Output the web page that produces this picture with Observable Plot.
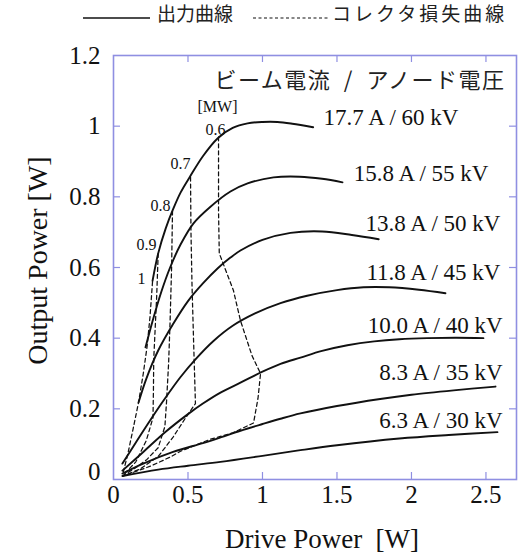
<!DOCTYPE html>
<html>
<head>
<meta charset="utf-8">
<script src="https://cdn.jsdelivr.net/npm/d3@7"></script>
<script src="https://cdn.jsdelivr.net/npm/@observablehq/plot@0.6"></script>
<style>
  html, body { margin: 0; padding: 0; background: #fff; }
  #wrap { position: relative; width: 530px; height: 560px; overflow: hidden; }
  #legend { position: absolute; left: 0; top: 0; width: 530px; height: 34px; z-index: 2; }
  .lg { position: absolute; top: 3px; font-family: "Noto Sans CJK JP", sans-serif; font-size: 19px; line-height: 20px; color: #222; white-space: nowrap; }
  #chart { position: absolute; left: 0; top: 0; }
</style>
</head>
<body>
<div id="wrap">
  <div id="legend">
    <svg width="530" height="34" style="position:absolute;left:0;top:0">
      <line x1="83" x2="150" y1="18" y2="18" stroke="#111" stroke-width="1.4"/>
      <line x1="253" x2="330" y1="18" y2="18" stroke="#111" stroke-width="1.1" stroke-dasharray="3,2.5"/>
    </svg>
    <span class="lg" style="left:157px">出力曲線</span>
    <span class="lg" style="left:332px;letter-spacing:3px">コレクタ損失曲線</span>
  </div>
  <div id="chart"></div>
</div>
<script>
// ---- axis ticks ----
const xTicks = [0, 0.5, 1, 1.5, 2, 2.5];
const yTicks = [0, 0.2, 0.4, 0.6, 0.8, 1, 1.2];

// ---- output power curves (solid) : [drive W, output W] ----
const seriesNames = ["17.7 A / 60 kV", "15.8 A / 55 kV", "13.8 A / 50 kV", "11.8 A / 45 kV", "10.0 A / 40 kV", "8.3 A / 35 kV", "6.3 A / 30 kV"];
const out177 = [[0.262,0.562],[0.30,0.64],[0.35,0.71],[0.40,0.765],[0.45,0.812],[0.513,0.857],[0.60,0.915],[0.70,0.966],[0.80,0.995],[0.90,1.008],[1.00,1.012],[1.10,1.012],[1.20,1.007],[1.34,0.997]];
const out158 = [[0.215,0.374],[0.26,0.445],[0.32,0.53],[0.38,0.60],[0.45,0.665],[0.537,0.725],[0.651,0.772],[0.785,0.815],[0.90,0.838],[1.074,0.855],[1.25,0.857],[1.40,0.851],[1.537,0.841]];
const out138 = [[0.168,0.218],[0.22,0.285],[0.30,0.365],[0.40,0.44],[0.50,0.505],[0.60,0.555],[0.70,0.598],[0.785,0.628],[0.852,0.648],[1.00,0.678],[1.188,0.698],[1.40,0.702],[1.60,0.692],[1.78,0.680]];
const out118 = [[0.06,0.045],[0.15,0.105],[0.25,0.17],[0.35,0.232],[0.45,0.29],[0.55,0.34],[0.671,0.392],[0.80,0.435],[0.95,0.47],[1.121,0.499],[1.30,0.52],[1.50,0.536],[1.678,0.544],[1.85,0.544],[2.05,0.537],[2.228,0.527]];
const out100 = [[0.06,0.025],[0.2,0.078],[0.35,0.135],[0.5,0.185],[0.6,0.215],[0.718,0.246],[0.852,0.274],[1.0,0.305],[1.121,0.327],[1.255,0.345],[1.40,0.364],[1.57,0.38],[1.75,0.391],[1.919,0.397],[2.107,0.40],[2.30,0.401],[2.483,0.40]];
const out83  = [[0.06,0.017],[0.2,0.045],[0.4,0.078],[0.6,0.103],[0.718,0.119],[0.852,0.138],[1.0,0.157],[1.121,0.172],[1.255,0.187],[1.5,0.208],[1.79,0.228],[2.0,0.24],[2.3,0.253],[2.564,0.263]];
const out63  = [[0.06,0.01],[0.3,0.028],[0.5,0.039],[0.718,0.05],[1.0,0.067],[1.255,0.083],[1.5,0.097],[1.919,0.116],[2.25,0.126],[2.577,0.134]];
const outputs = [out177, out158, out138, out118, out100, out83, out63];

// curve label anchors (end of text) [x, y]
const labelX = [2.315, 2.517, 2.597, 2.597, 2.611, 2.611, 2.611];
const labelY = [1.023, 0.867, 0.725, 0.586, 0.436, 0.303, 0.167];

// ---- collector loss curves (dashed), MW ----
const lossLevels = ["0.6", "0.7", "0.8", "0.9", "1"];
const loss06 = [[0.705,0.97],[0.705,0.76],[0.71,0.64],[0.805,0.535],[0.852,0.45],[0.93,0.35],[0.987,0.30],[0.97,0.23],[0.94,0.16],[0.80,0.132],[0.651,0.114],[0.45,0.08],[0.383,0.064],[0.25,0.038],[0.065,0.01]];
const loss07 = [[0.517,0.856],[0.52,0.70],[0.527,0.55],[0.537,0.40],[0.55,0.215],[0.48,0.172],[0.40,0.12],[0.30,0.065],[0.18,0.03],[0.065,0.01]];
const loss08 = [[0.396,0.76],[0.39,0.60],[0.38,0.45],[0.37,0.33],[0.356,0.22],[0.345,0.15],[0.30,0.09],[0.22,0.055],[0.13,0.028],[0.065,0.012]];
const loss09 = [[0.30,0.64],[0.29,0.52],[0.28,0.43],[0.27,0.34],[0.268,0.25],[0.265,0.175],[0.22,0.11],[0.15,0.05],[0.065,0.012]];
const loss10 = [[0.262,0.56],[0.245,0.46],[0.225,0.375],[0.20,0.30],[0.168,0.218],[0.13,0.14],[0.095,0.07],[0.065,0.02]];
const losses = [loss06, loss07, loss08, loss09, loss10];

// loss level labels [x, y]
const lossLabelText = ["[MW]", "0.6", "0.7", "0.8", "0.9", "1"];
const lossLabelX = [0.698, 0.685, 0.45, 0.315, 0.221, 0.188];
const lossLabelY = [1.056, 0.99, 0.892, 0.773, 0.663, 0.569];

const innerTitle = "ビーム電流 / アノード電圧";
const xTitle = "Drive Power\u00a0 [W]";
const yTitle = "Output Power [W]";

// ---- build tables ----
const outRows = outputs.flatMap((pts, i) => pts.map(([x, y]) => ({series: seriesNames[i], x, y})));
const lossRows = losses.flatMap((pts, i) => pts.map(([x, y]) => ({level: lossLevels[i], x, y})));
const curveLabels = seriesNames.map((t, i) => ({t, x: labelX[i], y: labelY[i]}));
const lossLabels = lossLabelText.map((t, i) => ({t, x: lossLabelX[i], y: lossLabelY[i]}));
const innerTitleShown = innerTitle.replace(/ /g, "\u2002");

const W = 530, H = 560, mT = 55, mB = 81, mL = 113, mR = 14;
const plotW = W - mL - mR, plotH = H - mT - mB;
const frameColor = "#8f8fe2";
const serif = "'Liberation Serif', 'Times New Roman', serif";
const tickLen = 7;

const chart = Plot.plot({
  width: W, height: H,
  marginTop: mT, marginBottom: mB, marginLeft: mL, marginRight: mR,
  x: {domain: [0, 2.705], label: null},
  y: {domain: [0, 1.2], label: null},
  style: {fontFamily: serif, background: "white", color: "#111"},
  marks: [
    Plot.line(lossRows, {x: "x", y: "y", z: "level", stroke: "#111", strokeWidth: 1.25, strokeDasharray: "4,3"}),
    Plot.line(outRows, {x: "x", y: "y", z: "series", stroke: "#111", strokeWidth: 1.9, curve: "catmull-rom"}),
    // inward ticks on all four sides
    Plot.tickX(xTicks.filter(d => d > 0), {x: d => d, stroke: frameColor, strokeWidth: 1.2, insetTop: plotH - tickLen}),
    Plot.tickX(xTicks.filter(d => d > 0), {x: d => d, stroke: frameColor, strokeWidth: 1.2, insetBottom: plotH - tickLen}),
    Plot.tickY(yTicks.filter(d => d > 0 && d < 1.2), {y: d => d, stroke: frameColor, strokeWidth: 1.2, insetRight: plotW - tickLen}),
    Plot.tickY(yTicks.filter(d => d > 0 && d < 1.2), {y: d => d, stroke: frameColor, strokeWidth: 1.2, insetLeft: plotW - tickLen}),
    Plot.frame({stroke: frameColor, strokeWidth: 1.6}),
    Plot.axisX({ticks: xTicks, tickSize: 0, tickPadding: 6, fontSize: 25, tickFormat: d => String(d), label: null}),
    Plot.axisY({ticks: yTicks.filter(d => d > 0), tickSize: 0, tickPadding: 13, fontSize: 25, tickFormat: d => String(d), label: null}),
    Plot.axisY({ticks: [0], tickSize: 0, tickPadding: 13, fontSize: 25, dy: -8, tickFormat: d => String(d), label: null}),
    Plot.text(curveLabels, {x: "x", y: "y", text: "t", textAnchor: "end", lineAnchor: "middle", fontSize: 23, fill: "#111"}),
    Plot.text(lossLabels, {x: "x", y: "y", text: "t", textAnchor: "middle", lineAnchor: "middle", fontSize: 16, fill: "#111"}),
    Plot.text([innerTitleShown], {frameAnchor: "top-right", textAnchor: "end", lineAnchor: "middle", dx: -11, dy: 25, fontSize: 22, fontFamily: "'Noto Sans CJK JP', sans-serif", fill: "#222"}),
    Plot.text([xTitle], {frameAnchor: "bottom", textAnchor: "middle", lineAnchor: "middle", dx: 7, dy: 60, fontSize: 27, fill: "#111"}),
    Plot.text([yTitle], {frameAnchor: "left", textAnchor: "middle", lineAnchor: "middle", rotate: -90, dx: -75, dy: -7, fontSize: 28, fill: "#111"})
  ]
});
d3.select(chart).selectAll("text").filter(function () { return this.textContent === innerTitleShown; }).style("letter-spacing", "1.5px");
document.getElementById("chart").appendChild(chart);
</script>
</body>
</html>
